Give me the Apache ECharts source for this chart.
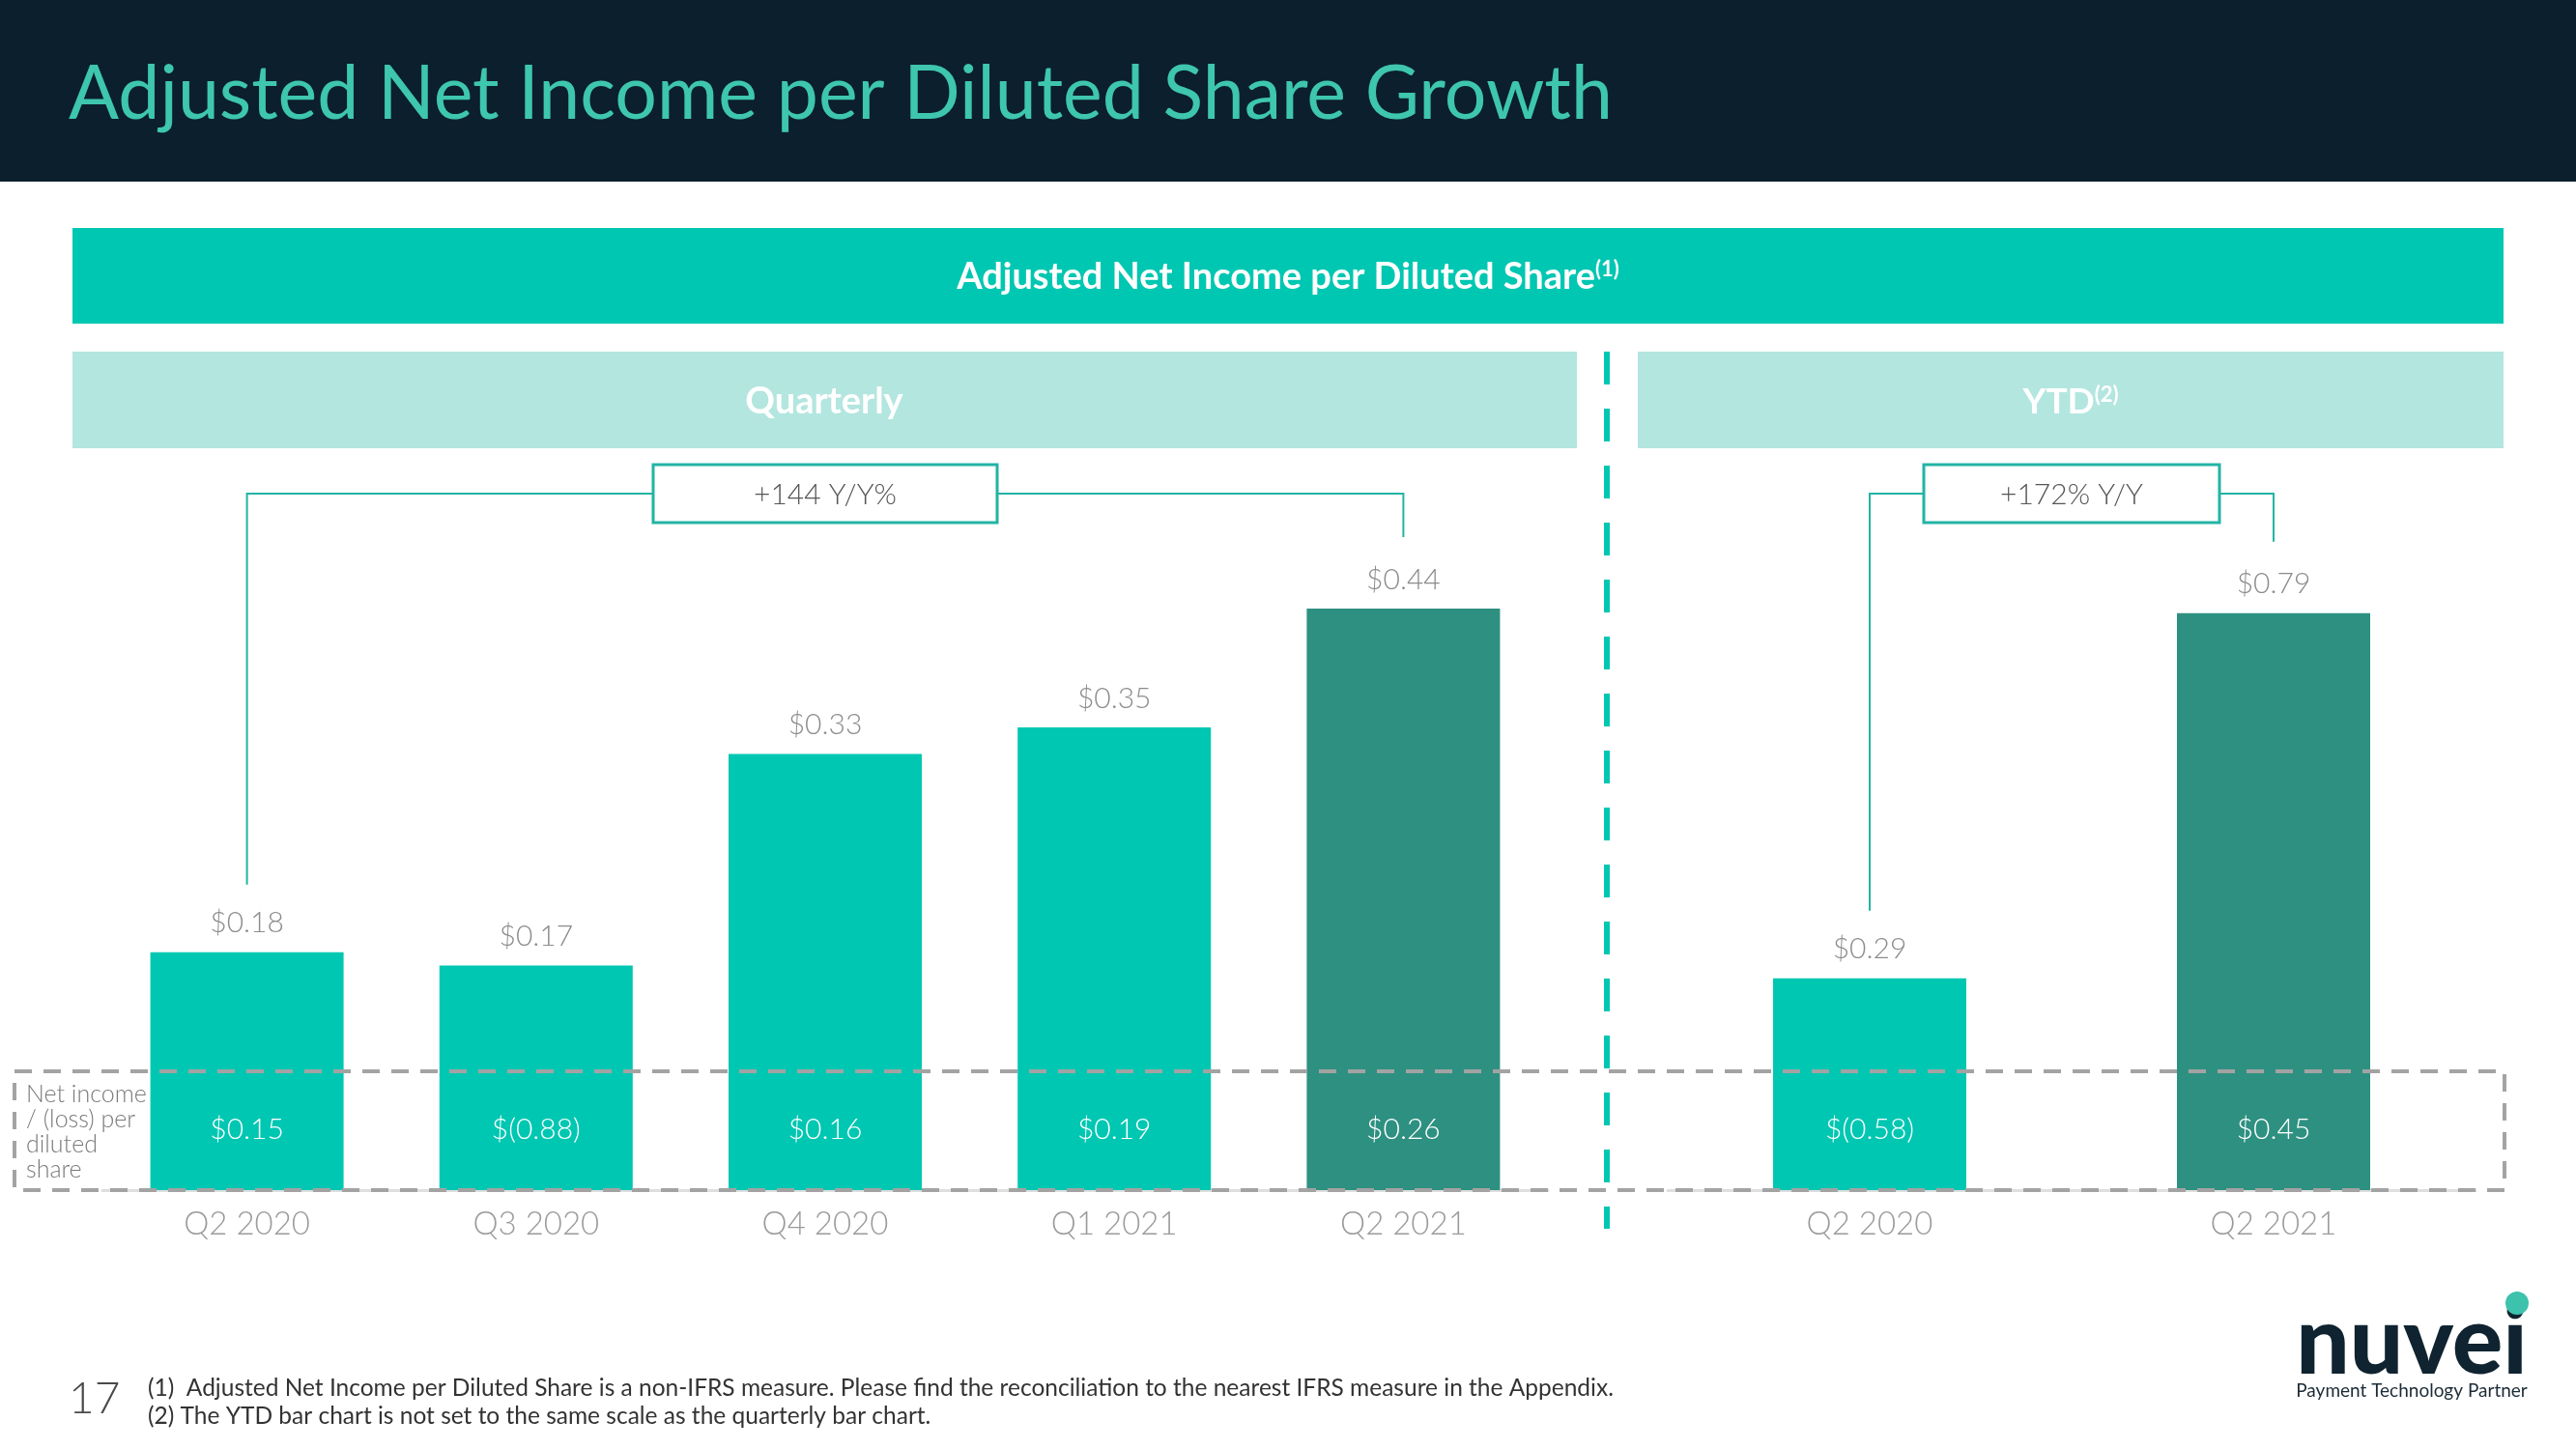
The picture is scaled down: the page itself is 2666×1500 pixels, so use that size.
<!DOCTYPE html>
<html>
<head>
<meta charset="utf-8">
<title>Adjusted Net Income per Diluted Share Growth</title>
<script src="https://cdn.jsdelivr.net/npm/echarts@6/dist/echarts.min.js"></script>
<style>
  html, body { margin: 0; padding: 0; background: #fff; }
  #chart { width: 2666px; height: 1500px; }
</style>
</head>
<body>
<div id="chart"></div>
<script>
// quarterly chart
const quarters = ["Q2 2020", "Q3 2020", "Q4 2020", "Q1 2021", "Q2 2021"];
const quarterlyAdjusted = [0.18, 0.17, 0.33, 0.35, 0.44];
const quarterlyNetIncome = [0.15, -0.88, 0.16, 0.19, 0.26];
const quarterlyGrowth = "+144 Y/Y%";

// ytd chart
const ytdPeriods = ["Q2 2020", "Q2 2021"];
const ytdAdjusted = [0.29, 0.79];
const ytdNetIncome = [-0.58, 0.45];
const ytdGrowth = "+172% Y/Y";

const FONT = "Lato";
const TEAL = "#00c7b2";
const DARK_TEAL = "#2e9080";
const LIGHT_TEAL = "#b3e6df";
const NAVY = "#0b1f2c";
const LINE_TEAL = "#22b4a4";

function money(v) {
  return v < 0 ? "$(" + Math.abs(v).toFixed(2) + ")" : "$" + v.toFixed(2);
}

function barSeries(idx, values, netIncome) {
  const last = values.length - 1;
  return [
    {
      type: "bar",
      xAxisIndex: idx,
      yAxisIndex: idx,
      barWidth: 200,
      barGap: "-100%",
      z: 2,
      data: values.map((v, i) => ({
        value: v,
        itemStyle: { color: i === last ? DARK_TEAL : TEAL }
      })),
      label: {
        show: true,
        position: "top",
        distance: 15,
        color: "#8c8c8c",
        fontFamily: FONT,
        fontWeight: 300,
        fontSize: 30,
        formatter: p => money(p.value)
      }
    },
    {
      // transparent copy carrying the net income label
      type: "bar",
      xAxisIndex: idx,
      yAxisIndex: idx,
      barWidth: 200,
      barGap: "-100%",
      z: 3,
      silent: true,
      data: values,
      itemStyle: { color: "transparent" },
      label: {
        show: true,
        position: "insideBottom",
        distance: 48,
        color: "#ffffff",
        fontFamily: FONT,
        fontWeight: 300,
        fontSize: 30,
        formatter: p => money(netIncome[p.dataIndex])
      }
    }
  ];
}

function categoryAxis(idx, data) {
  return {
    type: "category",
    gridIndex: idx,
    data: data,
    axisTick: { show: false },
    axisLine: { lineStyle: { color: "#dedede", width: 3 } },
    axisLabel: { color: "#9b9b9b", fontFamily: FONT, fontWeight: 300, fontSize: 33, margin: 19 }
  };
}

const chart = echarts.init(document.getElementById("chart"));

const staticGraphics = [
  // header
  { type: "rect", shape: { x: 0, y: 0, width: 2666, height: 188 }, style: { fill: NAVY } },
  { type: "text", x: 71, y: 98, style: { text: "Adjusted Net Income per Diluted Share Growth", fill: "#3ec6ae",
      font: "400 77px " + FONT, verticalAlign: "middle" } },
  // main banner
  { type: "rect", shape: { x: 75, y: 236, width: 2516, height: 99 }, style: { fill: TEAL } },
  { type: "text", x: 1333, y: 287, style: {
      text: "{a|Adjusted Net Income per Diluted Share}{s|(1)}", align: "center", verticalAlign: "middle",
      rich: {
        a: { fill: "#fff", fontFamily: FONT, fontWeight: 700, fontSize: 38 },
        s: { fill: "#fff", fontFamily: FONT, fontWeight: 700, fontSize: 22, verticalAlign: "top" }
      } } },
  // section bands
  { type: "rect", shape: { x: 75, y: 364, width: 1557, height: 100 }, style: { fill: LIGHT_TEAL } },
  { type: "text", x: 853, y: 416, style: { text: "Quarterly", fill: "#fff", font: "700 38px " + FONT,
      align: "center", verticalAlign: "middle" } },
  { type: "rect", shape: { x: 1695, y: 364, width: 896, height: 100 }, style: { fill: LIGHT_TEAL } },
  { type: "text", x: 2143, y: 416, style: {
      text: "{a|YTD}{s|(2)}", align: "center", verticalAlign: "middle",
      rich: {
        a: { fill: "#fff", fontFamily: FONT, fontWeight: 700, fontSize: 37 },
        s: { fill: "#fff", fontFamily: FONT, fontWeight: 700, fontSize: 22, verticalAlign: "top" }
      } } },
  // divider between quarterly and ytd
  { type: "line", z: 20, shape: { x1: 1663, y1: 364, x2: 1663, y2: 1272 },
    style: { stroke: TEAL, lineWidth: 6, lineDash: [34, 25] } },
  // dashed box around net income row
  { type: "rect", z: 20, shape: { x: 15, y: 1109, width: 2577, height: 123 },
    style: { fill: null, stroke: "#a3a3a3", lineWidth: 4, lineDash: [18, 12] } },
  { type: "text", x: 27, y: 1172, style: {
      text: "Net income\n/ (loss) per\ndiluted\nshare", fill: "#7a7a7a", font: "300 25px " + FONT,
      lineHeight: 26, verticalAlign: "middle" } },
  // footer
  { type: "text", x: 71, y: 1448, style: { text: "17", fill: "#4a4a4a", font: "300 46px " + FONT, verticalAlign: "middle" } },
  { type: "text", x: 153, y: 1437, style: {
      text: "(1)  Adjusted Net Income per Diluted Share is a non-IFRS measure. Please find the reconciliation to the nearest IFRS measure in the Appendix.",
      fill: "#333", font: "400 24.5px " + FONT, verticalAlign: "middle" } },
  { type: "text", x: 153, y: 1466, style: {
      text: "(2) The YTD bar chart is not set to the same scale as the quarterly bar chart.",
      fill: "#333", font: "400 24.5px " + FONT, verticalAlign: "middle" } },
  // logo
  { type: "text", x: 2496, y: 1390, style: { text: "nuvei", fill: "#0f2330", font: "900 98px " + FONT,
      align: "center", verticalAlign: "middle" } },
  { type: "circle", z: 5, shape: { cx: 2605, cy: 1349, r: 12 }, style: { fill: "#3cc2ad" } },
  { type: "text", x: 2496, y: 1440, style: { text: "Payment Technology Partner", fill: "#1c2b36",
      font: "400 19px " + FONT, align: "center", verticalAlign: "middle" } }
];

const option = {
  backgroundColor: "#ffffff",
  animation: false,
  grid: [
    { left: 106, width: 1496, top: 411, bottom: 268 },
    { left: 1726, width: 836, top: 476, bottom: 268 }
  ],
  xAxis: [categoryAxis(0, quarters), categoryAxis(1, ytdPeriods)],
  yAxis: [
    { type: "value", gridIndex: 0, min: 0, max: 0.6, show: false },
    { type: "value", gridIndex: 1, min: 0, max: 1.0, show: false }
  ],
  series: barSeries(0, quarterlyAdjusted, quarterlyNetIncome).concat(barSeries(1, ytdAdjusted, ytdNetIncome)),
  graphic: { elements: staticGraphics }
};

chart.setOption(option);

// growth brackets linking first and last bar of each chart
function bracket(gridIndex, values, boxWidth, text) {
  const last = values.length - 1;
  const a = chart.convertToPixel({ gridIndex: gridIndex }, [0, values[0]]);
  const b = chart.convertToPixel({ gridIndex: gridIndex }, [last, values[last]]);
  const lineY = 511;
  const mid = (a[0] + b[0]) / 2;
  return [
    { type: "polyline", shape: { points: [[a[0], a[1] - 70], [a[0], lineY], [b[0], lineY], [b[0], b[1] - 74]] },
      style: { stroke: LINE_TEAL, lineWidth: 2, fill: null } },
    { type: "rect", shape: { x: mid - boxWidth / 2, y: 481, width: boxWidth, height: 60 },
      style: { fill: "#fff", stroke: LINE_TEAL, lineWidth: 3 } },
    { type: "text", x: mid, y: 512, style: { text: text, fill: "#555", font: "300 30px " + FONT,
        align: "center", verticalAlign: "middle" } }
  ];
}

chart.setOption({
  graphic: {
    elements: staticGraphics.concat(bracket(0, quarterlyAdjusted, 356, quarterlyGrowth), bracket(1, ytdAdjusted, 306, ytdGrowth))
  }
}, { replaceMerge: ["graphic"] });
</script>
</body>
</html>
